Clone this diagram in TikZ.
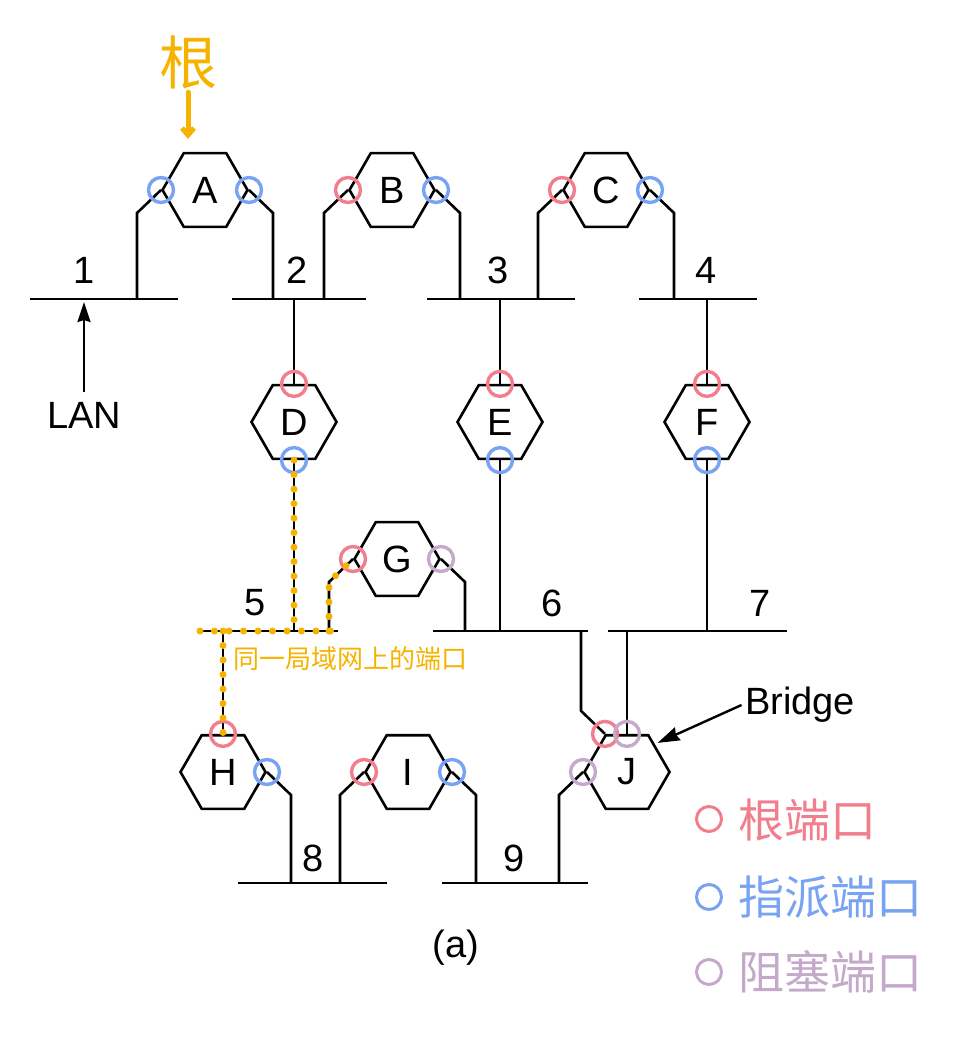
\documentclass[tikz,border=0pt]{standalone}
\usepackage{fontspec}
\setmainfont{Liberation Sans}
\newfontfamily\cjk{Noto Sans CJK SC}
\usetikzlibrary{shapes.geometric,arrows.meta}
\definecolor{rootred}{HTML}{F27D8C}
\definecolor{desblue}{HTML}{77A3F2}
\definecolor{blkpurple}{HTML}{C4A9CB}
\definecolor{hlorange}{HTML}{F5B300}

\begin{document}
\begin{tikzpicture}[x=1pt,y=-1pt,
bridge/.style={regular polygon, regular polygon sides=6, draw=black, line width=2.6pt, minimum size=85pt, inner sep=0pt, font=\fontsize{38}{40}\selectfont},
lan/.style={line width=2.6pt},
link/.style={line width=2.6pt},
num/.style={font=\fontsize{38}{40}\selectfont},
rootport/.style={draw=rootred, line width=3.4pt},
desport/.style={draw=desblue, line width=3.4pt},
blkport/.style={draw=blkpurple, line width=3.4pt},
dotpath/.style={draw=hlorange, line width=7pt, line cap=round, dash pattern=on 0pt off 14.5pt},
note/.style={text=hlorange, font=\cjk\fontsize{26}{28}\selectfont},
legend/.style={anchor=west, font=\cjk\fontsize{46}{48}\selectfont},
]
\useasboundingbox (0,0) rectangle (976,1043);

% LAN segments
\coordinate (L1a) at (30,299);  \coordinate (L1b) at (178,299);
\coordinate (L2a) at (232,299); \coordinate (L2b) at (366,299);
\coordinate (L3a) at (427,299); \coordinate (L3b) at (575,299);
\coordinate (L4a) at (639,299); \coordinate (L4b) at (757,299);
\coordinate (L5a) at (200,631); \coordinate (L5b) at (338,631);
\coordinate (L6a) at (433,631); \coordinate (L6b) at (588,631);
\coordinate (L7a) at (608,631); \coordinate (L7b) at (787,631);
\coordinate (L8a) at (238,883); \coordinate (L8b) at (387,883);
\coordinate (L9a) at (442,883); \coordinate (L9b) at (588,883);
\foreach \l in {1,...,9}
  \draw[lan] (L\l a) -- (L\l b);

\node[num] (n1) at (84,270) {1};
\node[num] (n2) at (297,270) {2};
\node[num] (n3) at (498,270) {3};
\node[num] (n4) at (706,270) {4};
\node[num] (n5) at (255,603) {5};
\node[num] (n6) at (552,603) {6};
\node[num] (n7) at (760,603) {7};
\node[num] (n8) at (313,858) {8};
\node[num] (n9) at (514,858) {9};

% bridges
\node[bridge] (A) at (205,190) {A};
\node[bridge] (B) at (392,190) {B};
\node[bridge] (C) at (606,190) {C};
\node[bridge] (D) at (294,422) {D};
\node[bridge] (E) at (500,422) {E};
\node[bridge] (F) at (707,422) {F};
\node[bridge] (G) at (397,559) {G};
\node[bridge] (H) at (223,772) {H};
\node[bridge] (I) at (408,772) {I};
\node[bridge] (J) at (627,772) {J};

% bridge to LAN links
\draw[link] (A.180) -- ++(-24,23) coordinate (a1) -- (a1 |- L1a);
\draw[link] (A.0) -- ++(24,23) coordinate (a2) -- (a2 |- L2a);
\draw[link] (B.180) -- ++(-24,23) coordinate (b1) -- (b1 |- L2a);
\draw[link] (B.0) -- ++(24,23) coordinate (b2) -- (b2 |- L3a);
\draw[link] (C.180) -- ++(-24,23) coordinate (c1) -- (c1 |- L3a);
\draw[link] (C.0) -- ++(24,23) coordinate (c2) -- (c2 |- L4a);
\draw[link] (D.90) -- (D.90 |- L2a);
\draw[link] (D.270) -- (D.270 |- L5a);
\draw[link] (E.90) -- (E.90 |- L3a);
\draw[link] (E.270) -- (E.270 |- L6a);
\draw[link] (F.90) -- (F.90 |- L4a);
\draw[link] (F.270) -- (F.270 |- L7a);
\draw[link] (G.180) -- ++(-24,23) coordinate (g1) -- (g1 |- L5a);
\draw[link] (G.0) -- ++(24,23) coordinate (g2) -- (g2 |- L6a);
\draw[link] (H.90) -- (H.90 |- L5a);
\draw[link] (H.0) -- ++(24,23) coordinate (h2) -- (h2 |- L8a);
\draw[link] (I.180) -- ++(-24,23) coordinate (i1) -- (i1 |- L8a);
\draw[link] (I.0) -- ++(24,23) coordinate (i2) -- (i2 |- L9a);
\draw[link] (J.120) -- ++(-24,-23) coordinate (j1) -- (j1 |- L6a);
\draw[link] (J.90) -- (J.90 |- L7a);
\draw[link] (J.180) -- ++(-24,23) coordinate (j3) -- (j3 |- L9a);

% ports
\draw[desport] (A.180) circle (12.5pt);
\draw[desport] (A.0) circle (12.5pt);
\draw[rootport] (B.180) circle (12.5pt);
\draw[desport] (B.0) circle (12.5pt);
\draw[rootport] (C.180) circle (12.5pt);
\draw[desport] (C.0) circle (12.5pt);
\foreach \b in {D,E,F} {
  \draw[rootport] (\b.90) circle (12.5pt);
  \draw[desport] (\b.270) circle (12.5pt);
}
\draw[rootport] (G.180) circle (12.5pt);
\draw[blkport] (G.0) circle (12.5pt);
\draw[rootport] (H.90) circle (12.5pt);
\draw[desport] (H.0) circle (12.5pt);
\draw[rootport] (I.180) circle (12.5pt);
\draw[desport] (I.0) circle (12.5pt);
\draw[rootport] (J.120) circle (12.5pt);
\draw[blkport] (J.90) circle (12.5pt);
\draw[blkport] (J.180) circle (12.5pt);

% plain labels
\node[num] (lanlbl) at (84,415) {LAN};
\draw[line width=2.4pt, -{Stealth[length=20pt,width=13pt,inset=2pt]}, shorten <=6pt, shorten >=3pt]
  (lanlbl.north) -- (lanlbl.north |- L1a);
\node[num] (bridgelbl) at (800,705) {Bridge};
\draw[line width=2.4pt, -{Stealth[length=22pt,width=14pt,inset=2pt]}, shorten >=3pt]
  (bridgelbl.west) -- (J.45);
\node[num] (caption) at (456,948) {(a)};

% annotations
\node[text=hlorange, font=\cjk\fontsize{58}{60}\selectfont] (rootlbl) at (188,62) {根};
\draw[hlorange, line width=5pt, line cap=round, -{Straight Barb[length=7pt,width=12pt]}, shorten >=13pt]
  (rootlbl.south) -- (rootlbl.south |- A.north);
\draw[dotpath] (D.270) -- (D.270 |- L5a);
\draw[dotpath] (L5a) -- (L5b);
\draw[dotpath] (g1 |- L5a) -- (g1) -- (G.180);
\draw[dotpath] (H.90 |- L5a) -- (H.90);
\node[note] (samelan) at (350,659) {同一局域网上的端口};

% legend
\draw[rootport, line width=3pt] (709,819) circle (12.5pt);
\node[legend, text=rootred] (lgroot) at (735,820) {根端口};
\draw[desport, line width=3pt] (709,897) circle (12.5pt);
\node[legend, text=desblue] (lgdes) at (735,897) {指派端口};
\draw[blkport, line width=3pt] (709,972) circle (12.5pt);
\node[legend, text=blkpurple] (lgblk) at (735,972) {阻塞端口};
\end{tikzpicture}
\end{document}
